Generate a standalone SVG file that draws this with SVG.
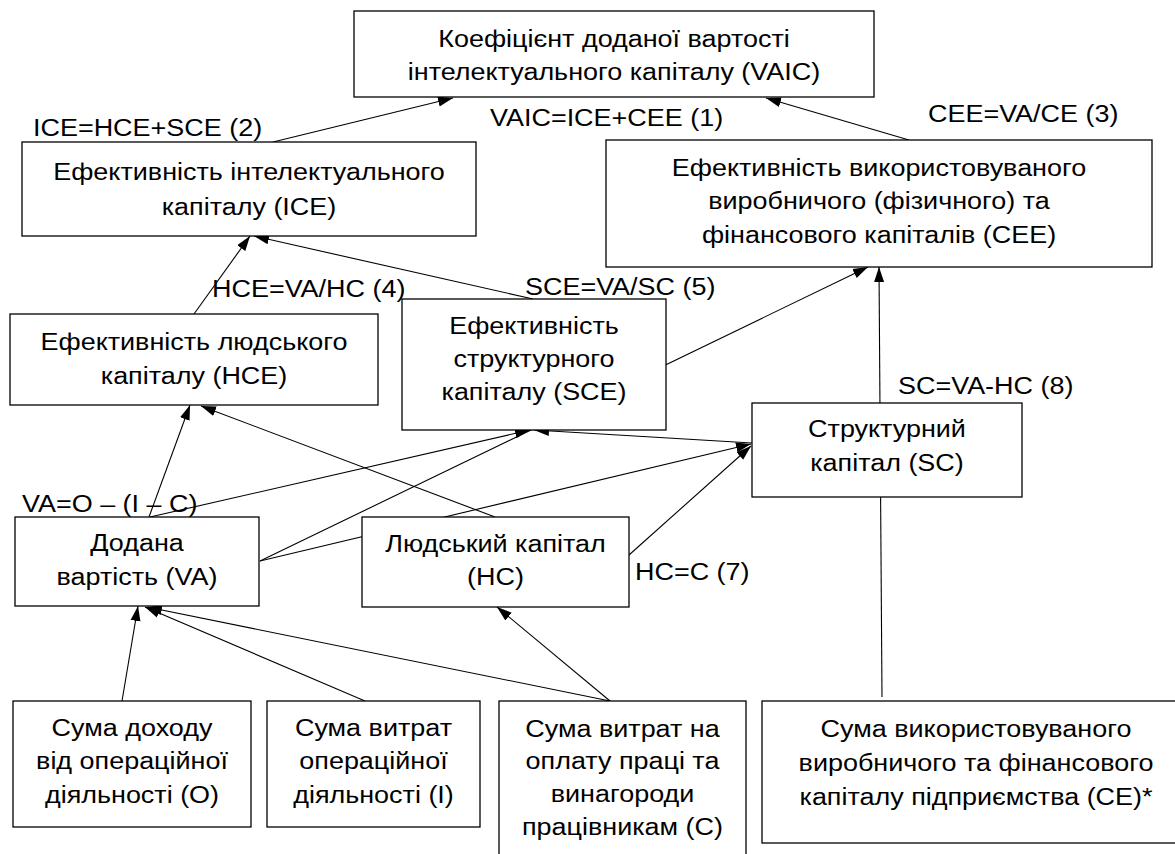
<svg xmlns="http://www.w3.org/2000/svg" width="1175" height="854" viewBox="0 0 1175 854">
<style>
.box{fill:#fff;stroke:#000;stroke-width:1.3}
.t{font-family:"Liberation Sans",Arial,sans-serif;font-size:24.5px;fill:#000;text-anchor:middle}
.lb{font-family:"Liberation Sans",Arial,sans-serif;font-size:24.5px;fill:#000}
.c{stroke:#000;stroke-width:1.1;fill:none;marker-end:url(#ah)}
</style>
<defs>
<marker id="ah" markerUnits="userSpaceOnUse" markerWidth="16" markerHeight="12" refX="15" refY="5" orient="auto" viewBox="0 0 16 10">
<path d="M0,0 L15,5 L0,10 z" fill="#000"/>
</marker>
</defs>
<rect width="1175" height="854" fill="#fff"/>
<g id="connectors">
<line class="c" x1="273" y1="142" x2="453" y2="98"/>
<line class="c" x1="909" y1="140" x2="766" y2="98"/>
<line class="c" x1="194" y1="314" x2="250" y2="236"/>
<line class="c" x1="533" y1="299" x2="254" y2="236"/>
<line class="c" x1="149" y1="517" x2="190" y2="405"/>
<line class="c" x1="495" y1="517" x2="201" y2="406"/>
<line class="c" x1="150" y1="517" x2="530" y2="430"/>
<line class="c" x1="752" y1="443" x2="534" y2="430"/>
<line class="c" x1="260" y1="561" x2="868" y2="267"/>
<line class="c" x1="882" y1="697" x2="879" y2="267"/>
<line class="c" x1="260" y1="561" x2="751" y2="444"/>
<line class="c" x1="629" y1="555" x2="751" y2="446"/>
<line class="c" x1="122" y1="701" x2="138" y2="606"/>
<line class="c" x1="365" y1="701" x2="145" y2="607"/>
<line class="c" x1="610" y1="701" x2="147" y2="607"/>
<line class="c" x1="610" y1="701" x2="497" y2="607"/>
</g>
<g id="vaic"><rect class="box" x="354" y="11" width="520" height="86"/>
<text class="t" transform="translate(614,47) scale(1.1,1)">Коефіцієнт доданої вартості</text>
<text class="t" transform="translate(614,80) scale(1.1,1)">інтелектуального капіталу (VAIC)</text></g>
<g id="ice"><rect class="box" x="22" y="142" width="454" height="94"/>
<text class="t" transform="translate(249,180) scale(1.1,1)">Ефективність інтелектуального</text>
<text class="t" transform="translate(249,215) scale(1.1,1)">капіталу (ICE)</text></g>
<g id="cee"><rect class="box" x="606" y="140" width="546" height="127"/>
<text class="t" transform="translate(879,176) scale(1.1,1)">Ефективність використовуваного</text>
<text class="t" transform="translate(879,209) scale(1.1,1)">виробничого (фізичного) та</text>
<text class="t" transform="translate(879,243) scale(1.1,1)">фінансового капіталів (CEE)</text></g>
<g id="hce"><rect class="box" x="10" y="314" width="368" height="91"/>
<text class="t" transform="translate(194,350) scale(1.1,1)">Ефективність людського</text>
<text class="t" transform="translate(194,384) scale(1.1,1)">капіталу (HCE)</text></g>
<g id="sce"><rect class="box" x="402" y="299" width="264" height="131"/>
<text class="t" transform="translate(534,334) scale(1.1,1)">Ефективність</text>
<text class="t" transform="translate(534,367) scale(1.1,1)">структурного</text>
<text class="t" transform="translate(534,400) scale(1.1,1)">капіталу (SCE)</text></g>
<g id="sc"><rect class="box" x="752" y="403" width="270" height="94"/>
<text class="t" transform="translate(887,437) scale(1.1,1)">Структурний</text>
<text class="t" transform="translate(887,471) scale(1.1,1)">капітал (SC)</text></g>
<g id="va"><rect class="box" x="15" y="517" width="244" height="89"/>
<text class="t" transform="translate(137,551) scale(1.1,1)">Додана</text>
<text class="t" transform="translate(137,585) scale(1.1,1)">вартість (VA)</text></g>
<g id="hc"><rect class="box" x="362" y="517" width="267" height="90"/>
<text class="t" transform="translate(495.5,552) scale(1.1,1)">Людський капітал</text>
<text class="t" transform="translate(495.5,585) scale(1.1,1)">(HC)</text></g>
<g id="o"><rect class="box" x="13" y="701" width="238" height="126"/>
<text class="t" transform="translate(132,736) scale(1.1,1)">Сума доходу</text>
<text class="t" transform="translate(132,769) scale(1.1,1)">від операційної</text>
<text class="t" transform="translate(132,803) scale(1.1,1)">діяльності (О)</text></g>
<g id="i"><rect class="box" x="267" y="701" width="213" height="126"/>
<text class="t" transform="translate(373.5,736) scale(1.1,1)">Сума витрат</text>
<text class="t" transform="translate(373.5,769) scale(1.1,1)">операційної</text>
<text class="t" transform="translate(373.5,803) scale(1.1,1)">діяльності (І)</text></g>
<g id="c"><rect class="box" x="499" y="701" width="247" height="170"/>
<text class="t" transform="translate(622.5,737) scale(1.1,1)">Сума витрат на</text>
<text class="t" transform="translate(622.5,769) scale(1.1,1)">оплату праці та</text>
<text class="t" transform="translate(622.5,802) scale(1.1,1)">винагороди</text>
<text class="t" transform="translate(622.5,835) scale(1.1,1)">працівникам (С)</text></g>
<g id="ce"><rect class="box" x="762" y="701" width="428" height="142"/>
<text class="t" transform="translate(976,737) scale(1.1,1)">Сума використовуваного</text>
<text class="t" transform="translate(976,771) scale(1.1,1)">виробничого та фінансового</text>
<text class="t" transform="translate(976,805) scale(1.1,1)">капіталу підприємства (CE)*</text></g>
<g id="labels">
<text class="lb" transform="translate(33,136) scale(1.1,1)">ICE=HCE+SCE (2)</text>
<text class="lb" transform="translate(490,126) scale(1.1,1)">VAIC=ICE+CEE (1)</text>
<text class="lb" transform="translate(928,122) scale(1.1,1)">CEE=VA/CE (3)</text>
<text class="lb" transform="translate(212,297) scale(1.1,1)">HCE=VA/HC (4)</text>
<text class="lb" transform="translate(525,295) scale(1.1,1)">SCE=VA/SC (5)</text>
<text class="lb" transform="translate(898,394) scale(1.1,1)">SC=VA-HC (8)</text>
<text class="lb" transform="translate(22,512) scale(1.1,1)">VA=O – (I – C)</text>
<text class="lb" transform="translate(635,580) scale(1.1,1)">HC=C (7)</text>
</g>
</svg>
